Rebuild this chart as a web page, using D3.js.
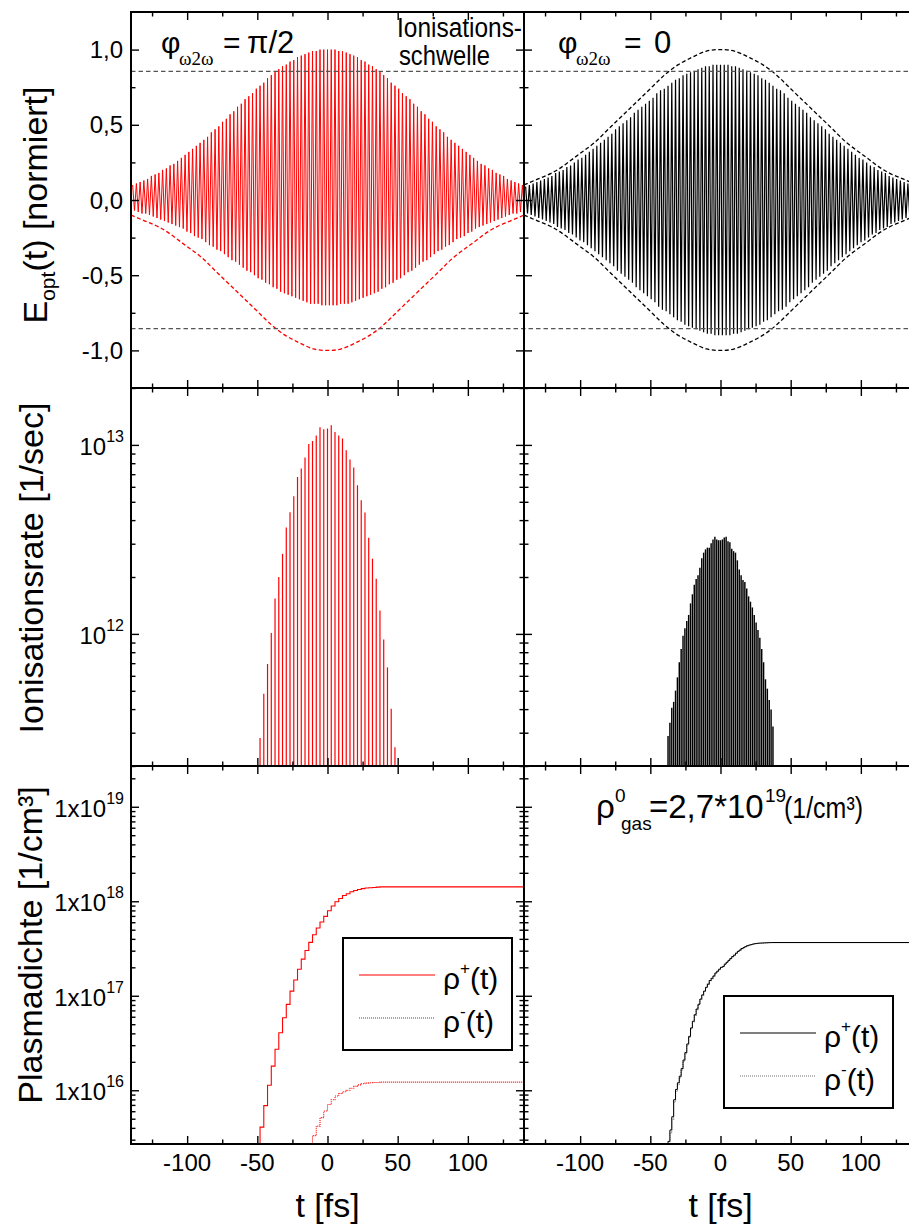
<!DOCTYPE html>
<html>
<head>
<meta charset="utf-8">
<script src="https://cdn.jsdelivr.net/npm/d3@7"></script>
<style>
  html, body { margin: 0; padding: 0; background: #fff; overflow: hidden; }
  svg { display: block; }
  text { font-family: "Liberation Sans", Arial, Helvetica, sans-serif; fill: #000; }
</style>
</head>
<body>
<svg id="chart" width="909" height="1228"></svg>
<script>
// ---------- axes ----------
const timeDomain = [-140, 140];
const timeTicks = [-100, -50, 0, 50, 100];
const timeMinorTicks = [-125, -75, -25, 25, 75, 125];
const timeTickLabels = ["-100", "-50", "0", "50", "100"];

const fieldDomain = [-1.25, 1.25];
const fieldTicks = [1, 0.5, 0, -0.5, -1];
const fieldMinorTicks = [0.75, 0.25, -0.25, -0.75];
const fieldTickLabels = ["1,0", "0,5", "0,0", "-0,5", "-1,0"];
const ionThreshold = [0.855, -0.855];

const rateDomain = [2e11, 2e13];
const rateTickValues = [1e12, 1e13];
const rateTickExponents = ["12", "13"];

const densityDomain = [2.7e15, 2.7e19];
const densityTickValues = [1e16, 1e17, 1e18, 1e19];
const densityTickExponents = ["16", "17", "18", "19"];

// ---------- optical field (one peak and one trough per optical cycle) ----------
const cycleStart = -138.84;   // fs, first field maximum
const cyclePeriod = 2.67;     // fs

const fieldPeaksPi2 = [
  0.10,0.11,0.12,0.13,0.14,0.16,0.17,0.18,0.20,0.21,0.23,0.24,0.26,0.28,0.30,0.32,0.34,0.36,0.38,0.40,
  0.42,0.45,0.47,0.49,0.52,0.54,0.57,0.59,0.62,0.64,0.67,0.69,0.71,0.74,0.76,0.78,0.81,0.83,0.85,0.87,
  0.89,0.90,0.92,0.93,0.95,0.96,0.97,0.98,0.99,0.99,1.00,1.00,
  1.00,
  1.00,1.00,0.99,0.99,0.98,0.97,0.96,0.95,0.93,0.92,0.90,0.89,0.87,0.85,0.83,0.81,0.78,0.76,0.74,0.71,
  0.69,0.67,0.64,0.62,0.59,0.57,0.54,0.52,0.49,0.47,0.45,0.42,0.40,0.38,0.36,0.34,0.32,0.30,0.28,0.26,
  0.24,0.23,0.21,0.20,0.18,0.17,0.16,0.14,0.13,0.12,0.11,0.10
];
const fieldTroughsPi2 = [
  -0.07,-0.08,-0.09,-0.09,-0.10,-0.11,-0.12,-0.13,-0.14,-0.15,-0.16,-0.17,-0.18,-0.19,-0.21,-0.22,-0.24,-0.25,-0.26,-0.28,
  -0.30,-0.31,-0.33,-0.34,-0.36,-0.38,-0.40,-0.41,-0.43,-0.45,-0.47,-0.48,-0.50,-0.52,-0.53,-0.55,-0.56,-0.58,-0.59,-0.61,
  -0.62,-0.63,-0.64,-0.65,-0.66,-0.67,-0.68,-0.69,-0.69,-0.69,-0.70,-0.70,
  -0.70,
  -0.70,-0.70,-0.69,-0.69,-0.69,-0.68,-0.67,-0.66,-0.65,-0.64,-0.63,-0.62,-0.61,-0.59,-0.58,-0.56,-0.55,-0.53,-0.52,-0.50,
  -0.48,-0.47,-0.45,-0.43,-0.41,-0.40,-0.38,-0.36,-0.34,-0.33,-0.31,-0.30,-0.28,-0.26,-0.25,-0.24,-0.22,-0.21,-0.19,-0.18,
  -0.17,-0.16,-0.15,-0.14,-0.13,-0.12,-0.11,-0.10,-0.09,-0.09,-0.08,-0.07
];
const fieldPeaksZero = [
  0.09,0.10,0.11,0.12,0.13,0.14,0.15,0.16,0.18,0.19,0.20,0.22,0.23,0.25,0.27,0.28,0.30,0.32,0.34,0.36,
  0.38,0.40,0.42,0.44,0.47,0.49,0.51,0.53,0.55,0.58,0.60,0.62,0.64,0.66,0.68,0.71,0.73,0.74,0.76,0.78,
  0.80,0.81,0.83,0.84,0.85,0.86,0.87,0.88,0.89,0.89,0.90,0.90,
  0.90,
  0.90,0.90,0.89,0.89,0.88,0.87,0.86,0.85,0.84,0.83,0.81,0.80,0.78,0.76,0.74,0.73,0.71,0.68,0.66,0.64,
  0.62,0.60,0.58,0.55,0.53,0.51,0.49,0.47,0.44,0.42,0.40,0.38,0.36,0.34,0.32,0.30,0.28,0.27,0.25,0.23,
  0.22,0.20,0.19,0.18,0.16,0.15,0.14,0.13,0.12,0.11,0.10,0.09
];
const fieldTroughsZero = [
  -0.09,-0.10,-0.11,-0.12,-0.13,-0.14,-0.15,-0.16,-0.18,-0.19,-0.20,-0.22,-0.23,-0.25,-0.27,-0.28,-0.30,-0.32,-0.34,-0.36,
  -0.38,-0.40,-0.42,-0.44,-0.47,-0.49,-0.51,-0.53,-0.55,-0.58,-0.60,-0.62,-0.64,-0.66,-0.68,-0.71,-0.73,-0.74,-0.76,-0.78,
  -0.80,-0.81,-0.83,-0.84,-0.85,-0.86,-0.87,-0.88,-0.89,-0.89,-0.90,-0.90,
  -0.90,
  -0.90,-0.90,-0.89,-0.89,-0.88,-0.87,-0.86,-0.85,-0.84,-0.83,-0.81,-0.80,-0.78,-0.76,-0.74,-0.73,-0.71,-0.68,-0.66,-0.64,
  -0.62,-0.60,-0.58,-0.55,-0.53,-0.51,-0.49,-0.47,-0.44,-0.42,-0.40,-0.38,-0.36,-0.34,-0.32,-0.30,-0.28,-0.27,-0.25,-0.23,
  -0.22,-0.20,-0.19,-0.18,-0.16,-0.15,-0.14,-0.13,-0.12,-0.11,-0.10,-0.09
];

// pulse envelope (dashed)
const envelopeTime = [-140,-130,-120,-110,-100,-90,-80,-70,-60,-50,-40,-30,-20,-10,0,
                      10,20,30,40,50,60,70,80,90,100,110,120,130,140];
const envelopeUpper = [0.10,0.14,0.18,0.24,0.31,0.38,0.47,0.56,0.65,0.74,0.83,0.90,0.95,0.99,1.00,
                       0.99,0.95,0.90,0.83,0.74,0.65,0.56,0.47,0.38,0.31,0.24,0.18,0.14,0.10];
const envelopeLower = [-0.10,-0.14,-0.18,-0.24,-0.31,-0.38,-0.47,-0.56,-0.65,-0.74,-0.83,-0.90,-0.95,-0.99,-1.00,
                       -0.99,-0.95,-0.90,-0.83,-0.74,-0.65,-0.56,-0.47,-0.38,-0.31,-0.24,-0.18,-0.14,-0.10];

// ---------- ionisation bursts ----------
// phi = pi/2: one burst per optical cycle
const burstStartPi2 = -48.06, burstStepPi2 = 2.67;
const ratePi2 = [2.81e11,4.82e11,6.93e11,1.01e12,1.54e12,2.00e12,2.65e12,3.66e12,4.40e12,5.35e12,
                 6.76e12,7.50e12,8.57e12,1.01e13,1.05e13,1.12e13,1.24e13,1.21e13,1.22e13,1.27e13,
                 1.17e13,1.12e13,1.08e13,9.38e12,8.38e12,7.59e12,6.11e12,5.09e12,4.39e12,3.23e12,
                 2.50e12,1.96e12,1.33e12,9.33e11,6.65e11,4.02e11,2.51e11];
// phi = 0: two bursts per optical cycle
const burstStartZero = -37.38, burstStepZero = 1.335;
const rateZero = [2.88e11,3.39e11,4.07e11,4.37e11,5.01e11,5.89e11,7.08e11,8.32e11,9.77e11,1.07e12,
                  1.17e12,1.26e12,1.45e12,1.62e12,1.82e12,1.95e12,2.04e12,2.24e12,2.51e12,2.69e12,
                  2.80e12,2.86e12,2.86e12,3.02e12,3.16e12,3.27e12,3.16e12,3.13e12,3.13e12,3.16e12,
                  3.24e12,3.27e12,3.09e12,3.05e12,2.82e12,2.74e12,2.69e12,2.45e12,2.19e12,2.04e12,
                  1.93e12,1.88e12,1.74e12,1.58e12,1.48e12,1.38e12,1.26e12,1.15e12,1.05e12,9.55e11,
                  8.32e11,7.08e11,5.75e11,5.13e11,4.47e11,3.98e11,3.24e11];

// ---------- plasma density after each burst ----------
const rhoPlusPi2 = [4.07e15,6.87e15,1.13e16,1.80e16,2.72e16,4.06e16,5.86e16,8.11e16,1.12e17,1.47e17,
                    1.91e17,2.44e17,3.01e17,3.67e17,4.43e17,5.21e17,6.03e17,6.92e17,7.94e17,8.91e17,
                    9.89e17,1.07e18,1.15e18,1.20e18,1.26e18,1.30e18,1.33e18,1.36e18,1.38e18,1.39e18,
                    1.40e18,1.41e18,1.42e18,1.42e18,1.42e18,1.42e18,1.42e18];
const rhoMinusStartPi2 = -13.35;
const rhoMinusPi2 = [2.40e15,3.31e15,4.17e15,5.13e15,6.03e15,7.08e15,7.94e15,8.71e15,9.23e15,9.66e15,
                     1.00e16,1.05e16,1.10e16,1.14e16,1.17e16,1.19e16,1.20e16,1.21e16,1.21e16,1.22e16,
                     1.22e16,1.22e16,1.22e16,1.22e16];
const rhoPlusZero = [2.88e15,3.80e15,5.25e15,7.94e15,1.02e16,1.20e16,1.41e16,1.70e16,2.09e16,2.51e16,
                     3.09e16,3.72e16,4.57e16,5.37e16,6.31e16,7.24e16,8.13e16,9.23e16,1.02e17,1.12e17,
                     1.23e17,1.33e17,1.45e17,1.53e17,1.62e17,1.74e17,1.82e17,1.91e17,2.00e17,2.04e17,
                     2.16e17,2.26e17,2.37e17,2.48e17,2.60e17,2.69e17,2.82e17,2.95e17,3.05e17,3.16e17,
                     3.24e17,3.31e17,3.39e17,3.44e17,3.48e17,3.52e17,3.56e17,3.58e17,3.60e17,3.61e17,
                     3.62e17,3.63e17,3.64e17,3.65e17,3.65e17,3.66e17,3.66e17];
const rhoMinusZero = [2.75e15,3.55e15,4.95e15,7.50e15,9.70e15,1.15e16,1.36e16,1.64e16,2.02e16,2.44e16,
                      3.00e16,3.63e16,4.47e16,5.27e16,6.20e16,7.13e16,8.02e16,9.13e16,1.01e17,1.11e17,
                      1.22e17,1.32e17,1.44e17,1.52e17,1.61e17,1.73e17,1.81e17,1.90e17,1.99e17,2.03e17,
                      2.15e17,2.25e17,2.36e17,2.47e17,2.59e17,2.68e17,2.81e17,2.94e17,3.04e17,3.15e17,
                      3.23e17,3.30e17,3.38e17,3.43e17,3.47e17,3.51e17,3.55e17,3.57e17,3.59e17,3.60e17,
                      3.61e17,3.62e17,3.63e17,3.64e17,3.64e17,3.65e17,3.65e17];

const legendLabels = ["+", "-"];

// ---------- layout ----------
const RED = "#ff0000";
const svg = d3.select("#chart");
const defs = svg.append("defs");

const xCols = [
  d3.scaleLinear().domain(timeDomain).range([131, 524]),
  d3.scaleLinear().domain(timeDomain).range([524, 917])
];
const yField = d3.scaleLinear().domain(fieldDomain).range([388, 12]);
const yRate = d3.scaleLog().domain(rateDomain).range([766, 388]);
const yDens = d3.scaleLog().domain(densityDomain).range([1144, 766]);

let clipId = 0;
function panel(x, y) {
  const id = "clip" + (clipId++);
  const [x0, x1] = x.range();
  const [yb, yt] = y.range();
  defs.append("clipPath").attr("id", id).append("rect")
    .attr("x", x0).attr("y", yt).attr("width", x1 - x0).attr("height", yb - yt);
  return svg.append("g").attr("clip-path", `url(#${id})`);
}

function frame(x, y, yMajor, yMinor) {
  const [x0, x1] = x.range();
  const [yb, yt] = y.range();
  const g = svg.append("g");
  const specs = [
    [d3.axisBottom(x), `translate(0,${yb})`, timeTicks, timeMinorTicks],
    [d3.axisTop(x), `translate(0,${yt})`, timeTicks, timeMinorTicks],
    [d3.axisLeft(y), `translate(${x0},0)`, yMajor, yMinor],
    [d3.axisRight(y), `translate(${x1},0)`, yMajor, yMinor]
  ];
  specs.forEach(([axis, tr, major, minor]) => {
    g.append("g").attr("transform", tr)
      .call(axis.tickValues(major).tickSize(-8).tickSizeOuter(0).tickFormat(""));
    g.append("g").attr("transform", tr)
      .call(axis.tickValues(minor).tickSize(-4.5).tickSizeOuter(0).tickFormat(""));
  });
  g.selectAll(".domain").remove();
  g.selectAll(".tick line").attr("stroke", "#000").attr("stroke-width", 1.4);
  g.append("rect").attr("x", x0).attr("y", yt).attr("width", x1 - x0).attr("height", yb - yt)
    .attr("fill", "none").attr("stroke", "#000").attr("stroke-width", 2);
}

function logMinor(y) {
  return y.ticks().filter(v => Math.abs(Math.log10(v) - Math.round(Math.log10(v))) > 1e-6);
}

// ---------- row 1: optical field ----------
function fieldPath(peaks, troughs) {
  const pts = [];
  peaks.forEach((p, i) => {
    const t = cycleStart + i * cyclePeriod;
    pts.push([t, p]);
    pts.push([t + cyclePeriod / 2, troughs[i]]);
  });
  return pts;
}

[[0, fieldPeaksPi2, fieldTroughsPi2, RED, [envelopeLower], 1.0],
 [1, fieldPeaksZero, fieldTroughsZero, "#000", [envelopeUpper, envelopeLower], 1.2]]
.forEach(([c, peaks, troughs, color, envs, sw]) => {
  const x = xCols[c];
  const g = panel(x, yField);
  g.append("path")
    .attr("d", d3.line().x(d => x(d[0])).y(d => yField(d[1]))(fieldPath(peaks, troughs)))
    .attr("fill", "none").attr("stroke", color).attr("stroke-width", sw).attr("stroke-linejoin", "miter");
  envs.forEach(env => {
    g.append("path")
      .attr("d", d3.line().curve(d3.curveNatural)
        .x((d, i) => x(envelopeTime[i])).y(d => yField(d))(env))
      .attr("fill", "none").attr("stroke", color).attr("stroke-width", 1.3)
      .attr("stroke-dasharray", "4,2.5");
  });
});

// ionisation threshold across both panels
svg.append("g").selectAll("line").data(ionThreshold).join("line")
  .attr("x1", xCols[0](timeDomain[0])).attr("x2", xCols[1](timeDomain[1]))
  .attr("y1", d => yField(d)).attr("y2", d => yField(d))
  .attr("stroke", "#555").attr("stroke-width", 1.2).attr("stroke-dasharray", "4.5,3");

// ---------- row 2: ionisation rate ----------
[[0, ratePi2, burstStartPi2, burstStepPi2, RED, 1.2],
 [1, rateZero, burstStartZero, burstStepZero, "#000", 1.45]]
.forEach(([c, rates, t0, dt, color, sw]) => {
  const x = xCols[c];
  const g = panel(x, yRate);
  g.selectAll("line").data(rates).join("line")
    .attr("x1", (d, i) => x(t0 + i * dt)).attr("x2", (d, i) => x(t0 + i * dt))
    .attr("y1", yRate(rateDomain[0])).attr("y2", d => yRate(d))
    .attr("stroke", color).attr("stroke-width", sw);
});

// ---------- row 3: plasma density ----------
function stepPoints(values, t0, dt) {
  const pts = [[t0, densityDomain[0]]];
  values.forEach((v, i) => pts.push([t0 + i * dt, v]));
  pts.push([timeDomain[1], values[values.length - 1]]);
  return pts;
}
const densSeries = [
  [0, rhoPlusPi2, burstStartPi2, burstStepPi2, RED, null, 1.1],
  [0, rhoMinusPi2, rhoMinusStartPi2, burstStepPi2, RED, "1,1", 1.1],
  [1, rhoMinusZero, burstStartZero, burstStepZero, "#777", "1,1", 1.1],
  [1, rhoPlusZero, burstStartZero, burstStepZero, "#000", null, 1.0]
];
const densPanels = [panel(xCols[0], yDens), panel(xCols[1], yDens)];
densSeries.forEach(([c, vals, t0, dt, color, dash, sw]) => {
  const x = xCols[c];
  densPanels[c].append("path")
    .attr("d", d3.line().curve(d3.curveStepAfter).x(d => x(d[0])).y(d => yDens(d[1]))(stepPoints(vals, t0, dt)))
    .attr("fill", "none").attr("stroke", color).attr("stroke-width", sw)
    .attr("stroke-dasharray", dash);
});

// ---------- frames and ticks ----------
xCols.forEach(x => {
  frame(x, yField, fieldTicks, fieldMinorTicks);
  frame(x, yRate, rateTickValues, logMinor(yRate));
  frame(x, yDens, densityTickValues, logMinor(yDens));
});

// ---------- tick labels ----------
xCols.forEach(x => {
  svg.append("g").selectAll("text").data(timeTicks).join("text")
    .attr("x", d => x(d)).attr("y", 1171).attr("text-anchor", "middle")
    .style("font-size", "24px").text((d, i) => timeTickLabels[i]);
});
svg.append("g").selectAll("text").data(fieldTicks).join("text")
  .attr("x", 123).attr("y", d => yField(d) + 8.5).attr("text-anchor", "end")
  .style("font-size", "24px").text((d, i) => fieldTickLabels[i]);

function powerLabels(values, exps, y, prefix) {
  svg.append("g").selectAll("text").data(values).join("text")
    .attr("x", 124).attr("y", d => y(d) + 10).attr("text-anchor", "end")
    .style("font-size", "24px")
    .each(function (d, i) {
      const t = d3.select(this);
      t.append("tspan").text(prefix);
      t.append("tspan").attr("dy", -13).style("font-size", "16px").text(exps[i]);
    });
}
powerLabels(rateTickValues, rateTickExponents, yRate, "10");
powerLabels(densityTickValues, densityTickExponents, yDens, "1x10");

// ---------- axis titles ----------
svg.append("text").attr("transform", "translate(47,205) rotate(-90)")
  .attr("text-anchor", "middle").style("font-size", "34px")
  .call(t => {
    t.append("tspan").text("E");
    t.append("tspan").attr("dy", 8).style("font-size", "21px").text("opt");
    t.append("tspan").attr("dy", -8).text("(t) [normiert]");
  });
svg.append("text").attr("transform", "translate(43,568) rotate(-90)")
  .attr("text-anchor", "middle").style("font-size", "34px").text("Ionisationsrate [1/sec]");
svg.append("text").attr("transform", "translate(42,945) rotate(-90)")
  .attr("text-anchor", "middle").style("font-size", "34px").text("Plasmadichte [1/cm³]");
xCols.forEach(x => {
  svg.append("text").attr("x", x(0)).attr("y", 1217).attr("text-anchor", "middle")
    .style("font-size", "34px").text("t [fs]");
});

// ---------- annotations ----------
function phaseLabel(x0, value, xEq, xVal) {
  svg.append("text").attr("x", x0).attr("y", 53).style("font-size", "30px").text("φ");
  svg.append("text").attr("x", x0 + 18).attr("y", 65)
    .style("font-family", "'Liberation Serif', 'Times New Roman', serif").style("font-size", "19px").text("ω2ω");
  svg.append("text").attr("x", xEq).attr("y", 53).style("font-size", "30px").text("=");
  svg.append("text").attr("x", xVal).attr("y", 53).style("font-size", "31px").text(value);
}
phaseLabel(161, "π/2", 223, 247);
phaseLabel(558, "0", 624, 654);

svg.append("text").attr("x", 397).attr("y", 37).style("font-size", "27px")
  .attr("textLength", 125).attr("lengthAdjust", "spacingAndGlyphs").text("Ionisations-");
svg.append("text").attr("x", 399).attr("y", 65).style("font-size", "27px")
  .attr("textLength", 91).attr("lengthAdjust", "spacingAndGlyphs").text("schwelle");

// gas density annotation
svg.append("text").attr("x", 596).attr("y", 818).style("font-size", "33px").text("ρ");
svg.append("text").attr("x", 615).attr("y", 802).style("font-size", "19px").text("0");
svg.append("text").attr("x", 621).attr("y", 830).style("font-size", "19px").text("gas");
svg.append("text").attr("x", 649).attr("y", 818).style("font-size", "33px").text("=2,7*10");
svg.append("text").attr("x", 765).attr("y", 802).style("font-size", "19px").text("19");
svg.append("text").attr("x", 784).attr("y", 818).style("font-size", "30px")
  .attr("textLength", 79).attr("lengthAdjust", "spacingAndGlyphs").text("(1/cm³)");

// ---------- legends ----------
function legend(bx, by, color1, color2) {
  const g = svg.append("g");
  g.append("rect").attr("x", bx).attr("y", by).attr("width", 169).attr("height", 112)
    .attr("fill", "#fff").attr("stroke", "#000").attr("stroke-width", 2);
  const rows = [[color1, null, 37], [color2, "1,1", 80]];
  rows.forEach(([col, dash, dy], i) => {
    g.append("line").attr("x1", bx + 16).attr("x2", bx + 92)
      .attr("y1", by + dy).attr("y2", by + dy)
      .attr("stroke", col).attr("stroke-width", 1.2).attr("stroke-dasharray", dash);
    const t = g.append("text").attr("x", bx + 100).attr("y", by + dy + 14).style("font-size", "30px");
    t.append("tspan").text("ρ");
    t.append("tspan").attr("dy", -15).style("font-size", "17px").text(legendLabels[i]);
    t.append("tspan").attr("dy", 15).text("(t)");
  });
}
legend(343, 938, RED, RED);
legend(724, 996, "#000", "#777");
</script>
</body>
</html>
